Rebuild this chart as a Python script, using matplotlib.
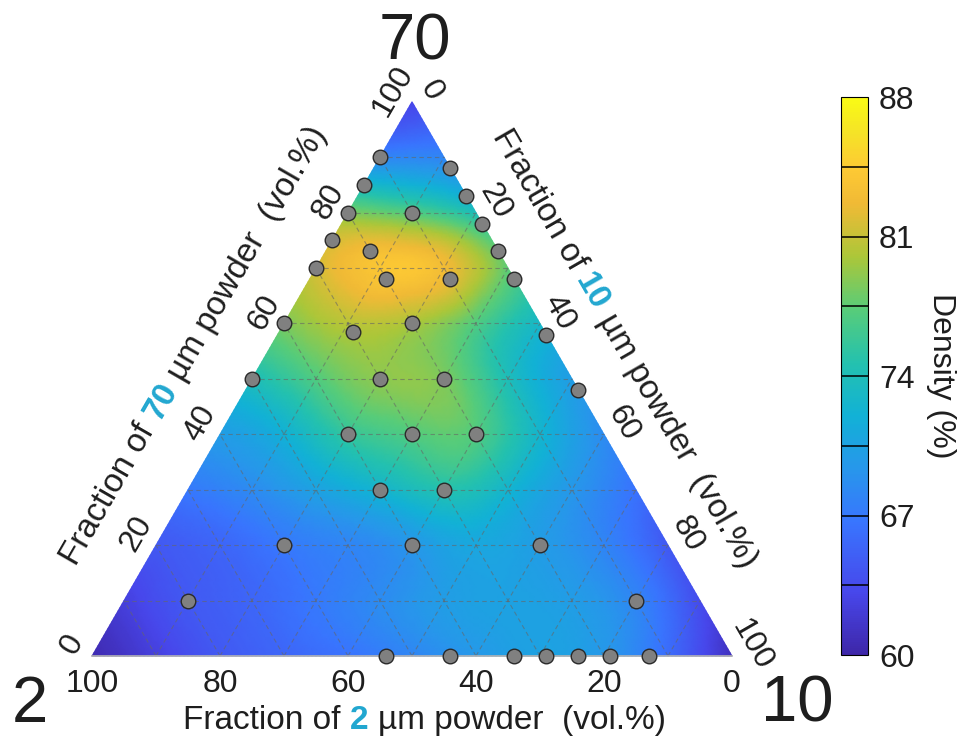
import numpy as np
import matplotlib
matplotlib.use("Agg")
import matplotlib.pyplot as plt
import matplotlib.tri as mtri
from matplotlib.colors import LinearSegmentedColormap

plt.rcParams['font.family'] = ['Liberation Sans', 'DejaVu Sans']

# density (%) read on a 10 vol.% grid; one row per 70 um fraction (0..100),
# inside a row the 10 um fraction goes 0, 10, ... up to 100 - f70
density_rows = [
    [60.5, 62.5, 64.5, 65.5, 66.5, 68.0, 69.5, 70.5, 69.5, 66.0, 61.0],
    [62.5, 64.5, 65.5, 67.0, 68.5, 70.0, 70.5, 70.0, 68.0, 63.5],
    [64.5, 65.5, 67.0, 68.0, 69.5, 71.0, 70.0, 68.0, 64.5],
    [67.0, 68.5, 70.5, 72.5, 74.5, 72.5, 69.5, 66.5],
    [70.0, 72.0, 75.5, 77.0, 77.0, 72.5, 68.5],
    [74.0, 77.0, 79.0, 78.5, 74.0, 70.0],
    [78.5, 80.5, 80.0, 77.0, 73.0],
    [81.5, 84.0, 83.0, 77.5],
    [78.5, 77.0, 74.0],
    [68.0, 68.0],
    [63.0],
]

# measured mixtures (vol.% of 70 um and 10 um powder, the rest is 2 um)
pts_70 = [90, 85, 80, 75, 70, 60, 50,
          88, 83, 78, 73, 68, 58, 48,
          80, 73, 68, 68, 58.5, 60, 50, 50, 40, 40, 40, 30, 30, 20, 20, 20, 10, 10,
          0, 0, 0, 0, 0, 0, 0]
pts_10 = [0, 0, 0, 0, 0, 0, 0,
          12, 17, 22, 27, 32, 42, 52,
          10, 7, 12, 22, 11.5, 20, 20, 30, 20, 30, 40, 30, 40, 20, 40, 60, 10, 80,
          46, 56, 66, 71, 76, 81, 87]

axis_ticks = [0, 20, 40, 60, 80, 100]
cbar_ticks = [60, 67, 74, 81, 88]
cbar_levels = [63.5, 67, 70.5, 74, 77.5, 81, 84.5]

# parula-like colormap
parula = LinearSegmentedColormap.from_list('parula', [
    (0.0, (0.2422, 0.1504, 0.6603)),
    (7/63, (0.2803, 0.2782, 0.9221)),
    (15/63, (0.2206, 0.4603, 0.9973)),
    (21/63, (0.1540, 0.5902, 0.9218)),
    (27/63, (0.0689, 0.6948, 0.8394)),
    (33/63, (0.1408, 0.7584, 0.6842)),
    (39/63, (0.3406, 0.8008, 0.4789)),
    (45/63, (0.6720, 0.7793, 0.2227)),
    (51/63, (0.9393, 0.7288, 0.2100)),
    (55/63, (0.9952, 0.7893, 0.2028)),
    (59/63, (0.9610, 0.8890, 0.1537)),
    (1.0, (0.9769, 0.9839, 0.0805)),
])

S = np.sqrt(3) / 2
HIGHLIGHT = '#22a7d0'
TXT = '#1e1e1e'


def tern(f70, f10):
    f70 = np.asarray(f70, dtype=float)
    f10 = np.asarray(f10, dtype=float)
    return f10 + f70 / 2, f70 * S


W, H = 958, 740
PX = 6.4  # pixels per vol.%
fig = plt.figure(figsize=(W / 100, H / 100), dpi=100)
ax = fig.add_axes([0, 0, 1, 1])
ax.set_xlim(-92 / PX, (W - 92) / PX)
ax.set_ylim((656 - H) / PX, 656 / PX)
ax.axis('off')

# density field
g70, g10, gz = [], [], []
for i, row in enumerate(density_rows):
    for j, v in enumerate(row):
        g70.append(10 * i)
        g10.append(10 * j)
        gz.append(v)
gx, gy = tern(g70, g10)
tri = mtri.Triangulation(gx, gy)
tri_r, z_r = mtri.UniformTriRefiner(tri).refine_field(np.array(gz), subdiv=4)
tpc = ax.tripcolor(tri_r, z_r, shading='gouraud', cmap=parula, vmin=60, vmax=88)

# grid
gkw = dict(color='0.4', lw=0.8, alpha=0.6, linestyle=(0, (4, 3)), zorder=3)
for k in range(10, 100, 10):
    x, y = tern([k, k], [0, 100 - k])
    ax.plot(x, y, **gkw)
    x, y = tern([0, 100 - k], [k, k])
    ax.plot(x, y, **gkw)
    x, y = tern([0, 100 - k], [100 - k, 0])
    ax.plot(x, y, **gkw)
x, y = tern([0, 0], [0, 100])
ax.plot(x, y, color='0.7', lw=1.2, zorder=3)

# samples
px, py = tern(pts_70, pts_10)
ax.scatter(px, py, s=110, c='#808080', edgecolors='#2a2a2a', linewidths=1.0,
           zorder=5, clip_on=False)

# tick labels
tfs = 23
off = 3.5
for k in axis_ticks:
    x, y = tern(k, 0)
    ax.text(x - off * S, y + off * 0.5, str(k), rotation=60, ha='center', va='center',
            fontsize=tfs, color=TXT)
    x, y = tern(100 - k, k)
    ax.text(x + off * S, y + off * 0.5, str(k), rotation=-60, ha='center', va='center',
            fontsize=tfs, color=TXT)
    ax.text(100 - k, -4.3, str(k), ha='center', va='center', fontsize=tfs, color=TXT)

# corner labels
ax.text(50.5, 95.9, '70', ha='center', va='center', fontsize=47, color=TXT)
ax.text(-9.7, -7.7, '2', ha='center', va='center', fontsize=47, color=TXT)
ax.text(110.2, -7.5, '10', ha='center', va='center', fontsize=47, color=TXT)

renderer = fig.canvas.get_renderer()


def text_width(s, size, weight='normal'):
    t = fig.text(0, 0, s, fontsize=size, fontweight=weight)
    w = t.get_window_extent(renderer).width
    t.remove()
    return w


def rich_label(xd, yd, angle, pieces, size=24):
    gap = text_width('a a', size) - text_width('aa', size)
    widths = [text_width(s, size, wt) for s, wt, c in pieces]
    total = sum(widths) + gap * (len(pieces) - 1)
    a = np.deg2rad(angle)
    d = np.array([np.cos(a), np.sin(a)])
    n = np.array([np.sin(a), -np.cos(a)])
    pos = np.array(ax.transData.transform((xd, yd))) - d * total / 2 + n * 0.36 * size * 100 / 72
    for (s, wt, c), wd in zip(pieces, widths):
        fig.text(pos[0] / W, pos[1] / H, s, rotation=angle, rotation_mode='anchor',
                 ha='left', va='baseline', fontsize=size, fontweight=wt, color=c)
        pos = pos + d * (wd + gap)


def axis_title(num):
    return [('Fraction of', 'normal', TXT), (num, 'bold', HIGHLIGHT),
            ('\u00b5m powder  (vol.%)', 'normal', TXT)]


rich_label(52, -9.6, 0, axis_title('2'))
rich_label(25 - 11.0 * S, 43.3 + 11.0 * 0.5, 60, axis_title('70'))
rich_label(75 + 10.0 * S, 43.3 + 10.0 * 0.5, -60, axis_title('10'))

# colorbar
cax = fig.add_axes([841 / W, (H - 655) / H, 27 / W, 558 / H])
cb = fig.colorbar(tpc, cax=cax, ticks=cbar_ticks)
cb.ax.tick_params(length=0, labelsize=23, pad=8, labelcolor=TXT)
cb.outline.set_linewidth(0.8)
for lv in cbar_levels:
    cax.axhline(lv, color='k', lw=1.1)
cax.text(3.7, 0.5, 'Density (%)', rotation=270, ha='center', va='center',
         fontsize=23, color=TXT, transform=cax.transAxes)

fig.savefig('out.png', dpi=100)
